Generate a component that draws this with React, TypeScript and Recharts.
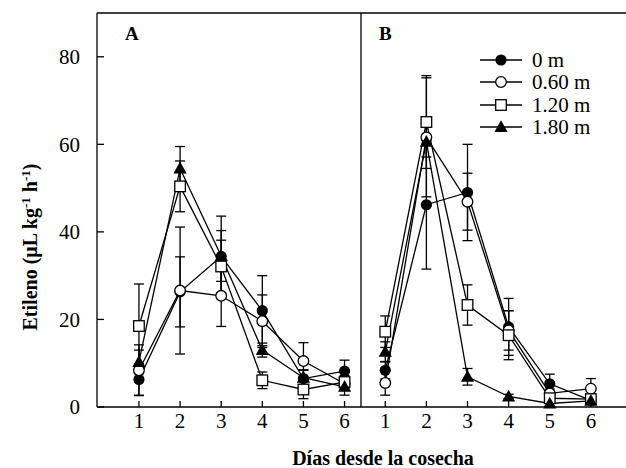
import { ErrorBar, Label, Legend, Line, LineChart, ReferenceLine, XAxis, YAxis } from "recharts";

const days = [1, 2, 3, 4, 5, 6];
const yTicks = [0, 20, 40, 60, 80];
const seriesNames = ["0 m", "0.60 m", "1.20 m", "1.80 m"];

// panel A
const a0m = [6.3, 26.3, 34.4, 22.0, 6.5, 8.2];
const a0mErr = [3.6, 8.0, 9.2, 8.0, 2.0, 2.5];
const a060 = [8.4, 26.6, 25.4, 19.6, 10.5, 5.3];
const a060Err = [5.8, 14.5, 7.0, 6.0, 4.2, 1.5];
const a120 = [18.5, 50.4, 32.1, 6.1, 4.0, 5.7];
const a120Err = [9.6, 5.8, 6.0, 1.9, 2.1, 1.5];
const a180 = [10.3, 54.5, 34.5, 13.0, 6.7, 4.6];
const a180Err = [2.7, 5.0, 5.8, 1.6, 1.7, 1.9];

// panel B
const b0m = [8.4, 46.2, 49.0, 18.3, 5.3, 1.5];
const b0mErr = [2.0, 14.7, 11.0, 6.5, 2.2, 0.8];
const b060 = [5.5, 61.6, 46.9, 17.5, 3.1, 4.2];
const b060Err = [2.8, 13.6, 6.5, 4.5, 1.0, 2.3];
const b120 = [17.2, 65.1, 23.3, 16.4, 2.0, 1.8];
const b120Err = [3.6, 10.6, 4.6, 5.6, 0.8, 0.8];
const b180 = [12.6, 60.6, 6.9, 2.4, 0.8, 1.4];
const b180Err = [2.3, 3.5, 1.9, 0.5, 0.5, 0.6];

const serif = "'Liberation Serif', 'Times New Roman', serif";
const shapes = ["circle", "ring", "square", "triangle"];

const buildRows = (vals: number[][], errs: number[][]) =>
  days.map((day, i) => {
    const row: any = { day };
    vals.forEach((v, k) => {
      row[`s${k}`] = v[i];
      row[`e${k}`] = errs[k][i];
    });
    return row;
  });

const dataA = buildRows([a0m, a060, a120, a180], [a0mErr, a060Err, a120Err, a180Err]);
const dataB = buildRows([b0m, b060, b120, b180], [b0mErr, b060Err, b120Err, b180Err]);

const Marker = ({ cx, cy, shape }: { cx: number; cy: number; shape: string }) => {
  if (shape === "circle") return <circle cx={cx} cy={cy} r={5.6} fill="#000" />;
  if (shape === "ring")
    return <circle cx={cx} cy={cy} r={5.3} fill="#fff" stroke="#000" strokeWidth={1.3} />;
  if (shape === "square")
    return (
      <rect x={cx - 5.3} y={cy - 5.3} width={10.6} height={10.6} fill="#fff" stroke="#000" strokeWidth={1.3} />
    );
  return <polygon points={`${cx},${cy - 6.8} ${cx + 6.6},${cy + 5} ${cx - 6.6},${cy + 5}`} fill="#000" />;
};

const renderSeries = () =>
  shapes.map((shape, k) => (
    <Line
      key={shape}
      dataKey={`s${k}`}
      name={seriesNames[k]}
      stroke="#000"
      strokeWidth={1.3}
      isAnimationActive={false}
      dot={(p: any) => <Marker key={`${shape}-${p.index}`} cx={p.cx} cy={p.cy} shape={shape} />}
      activeDot={false}
    >
      <ErrorBar dataKey={`e${k}`} width={5} stroke="#000" strokeWidth={1.3} direction="y" />
    </Line>
  ));

const tickStyle = { fill: "#000", fontSize: 21, fontFamily: serif };

const LegendBox = () => (
  <div style={{ fontFamily: serif, fontSize: 21, color: "#000" }}>
    {shapes.map((shape, k) => (
      <div key={shape} style={{ display: "flex", alignItems: "center", height: 22.3 }}>
        <svg width={44} height={22}>
          <line x1={0} x2={42} y1={11} y2={11} stroke="#000" strokeWidth={1.3} />
          <Marker cx={21} cy={11} shape={shape} />
        </svg>
        <span style={{ marginLeft: 8, lineHeight: "22px" }}>{seriesNames[k]}</span>
      </div>
    ))}
  </div>
);

const panelLetter = (letter: string, x: number) => () =>
  (
    <text x={x} y={40} fontFamily={serif} fontWeight="bold" fontSize={19} fill="#000">
      {letter}
    </text>
  );

export default function App() {
  return (
    <div
      style={{
        position: "fixed",
        left: 0,
        top: 0,
        width: 626,
        height: 468,
        overflow: "hidden",
        background: "#fff",
      }}
    >
      <div style={{ position: "absolute", left: 0, top: 0 }}>
        <LineChart width={361} height={468} data={dataA} margin={{ top: 13, right: 0, bottom: 31, left: 37 }}>
          <XAxis
            dataKey="day"
            type="number"
            domain={[-0.02, 6.4]}
            ticks={days}
            height={30}
            stroke="#000"
            strokeWidth={1.3}
            tickSize={-6}
            tickMargin={12}
            tick={tickStyle}
          />
          <YAxis
            type="number"
            domain={[0, 90]}
            ticks={yTicks}
            width={60}
            stroke="#000"
            strokeWidth={1.3}
            tickSize={-7}
            tickMargin={24}
            tick={tickStyle}
          >
            <Label
              content={() => (
                <text
                  transform="translate(30, 247) rotate(-90)"
                  textAnchor="middle"
                  fontFamily={serif}
                  fontWeight="bold"
                  fontSize={20}
                  fill="#000"
                  dy={7}
                >
                  Etileno (μL kg
                  <tspan dy={-7} fontSize={13}>
                    -1
                  </tspan>
                  <tspan dy={7}> h</tspan>
                  <tspan dy={-7} fontSize={13}>
                    -1
                  </tspan>
                  <tspan dy={7}>)</tspan>
                </text>
              )}
            />
          </YAxis>
          <ReferenceLine y={90} stroke="#000" strokeWidth={1.3}>
            <Label content={panelLetter("A", 125)} />
          </ReferenceLine>
          {renderSeries()}
        </LineChart>
      </div>
      <div style={{ position: "absolute", left: 0, top: 0 }}>
        <LineChart width={632} height={468} data={dataB} margin={{ top: 13, right: 0, bottom: 31, left: 360 }}>
          <XAxis
            dataKey="day"
            type="number"
            domain={[0.41, 7.0]}
            ticks={days}
            height={30}
            stroke="#000"
            strokeWidth={1.3}
            tickSize={-6}
            tickMargin={12}
            tick={tickStyle}
          >
            <Label
              content={() => (
                <text x={383} y={465} textAnchor="middle" fontFamily={serif} fontWeight="bold" fontSize={20} fill="#000">
                  Días desde la cosecha
                </text>
              )}
            />
          </XAxis>
          <YAxis type="number" domain={[0, 90]} ticks={yTicks} width={1} stroke="#000" strokeWidth={1.3} tick={false} tickLine={false} />
          <ReferenceLine y={90} stroke="#000" strokeWidth={1.3}>
            <Label content={panelLetter("B", 379)} />
          </ReferenceLine>
          <Legend
            layout="vertical"
            align="center"
            verticalAlign="middle"
            wrapperStyle={{ left: 480, top: 49, width: 140, height: "auto" }}
            content={() => <LegendBox />}
          />
          {renderSeries()}
        </LineChart>
      </div>
    </div>
  );
}
